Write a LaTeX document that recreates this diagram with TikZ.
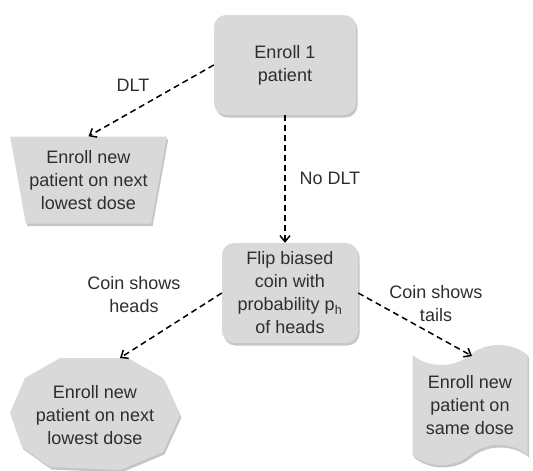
\documentclass[tikz,border=0pt]{standalone}
\usepackage{fontspec}
\setmainfont{Liberation Sans}
\usetikzlibrary{shapes.geometric,shapes.symbols,shadows,arrows.meta}
\definecolor{xam}{HTML}{D9D9D9}
\definecolor{chu}{HTML}{2E2E2E}
\begin{document}
\begin{tikzpicture}[x=1pt,y=-1pt,
    font=\fontsize{18}{23}\selectfont,
    bong/.style={fill=xam, drop shadow={shadow xshift=1.5pt, shadow yshift=-2.5pt, opacity=0.45}},
    khoi/.style={bong, text=chu, align=center, inner sep=0pt},
    nhan/.style={text=chu, align=center},
    muiten/.style={->, >={Straight Barb[length=6pt,width=10pt]}, line width=1.5pt, dash pattern=on 6pt off 4pt}]
    \useasboundingbox (0,0) rectangle (533,471);
    % Các khối chính
    \node[khoi, rounded corners=12pt, minimum width=142pt, minimum height=100pt] (start) at (285,65) {Enroll 1\\patient};
    \node[khoi, rounded corners=12pt, minimum width=136pt, minimum height=100pt] (coin) at (290,293) {Flip biased\\coin with\\probability p\textsubscript{h}\\of heads};
    \node[khoi, trapezium, trapezium stretches=true, shape border rotate=180, trapezium angle=76, minimum width=157pt, minimum height=87pt] (lowone) at (88.5,180) {Enroll new\\patient on next\\lowest dose};
    \node[khoi, tape, tape bend height=20pt, minimum width=115pt, minimum height=120pt] (same) at (470,405) {Enroll new\\patient on\\same dose};
    
    % Khối đa giác bên dưới
    \fill[bong] (10,413) -- (25,378) -- (60,358) -- (128,358) -- (163,378) -- (180,415) -- (163,452) -- (120,470) -- (50,467) -- (22,447) -- cycle;
    \node[nhan] (lowtwo) at (95,415) {Enroll new\\patient on next\\lowest dose};
    \coordinate (lowtwo-in) at (120,358);
    \coordinate (same-in) at (472,356);
    
    % Các mũi tên
    \draw[muiten] (start.west) -- (lowone.north);
    \draw[muiten] (start.south) -- (start.south |- coin.north);
    \draw[muiten] (coin.west) -- (lowtwo-in);
    \draw[muiten] (coin.east) -- (same-in);
    
    % Nhãn
    \node[nhan] (dlt) at (133,85) {DLT};
    \node[nhan, anchor=west] (nodlt) at (296,178) {No DLT};
    \node[nhan] (heads) at (134,295) {Coin shows\\heads};
    \node[nhan] (tails) at (436,304) {Coin shows\\tails};
\end{tikzpicture}
\end{document}
